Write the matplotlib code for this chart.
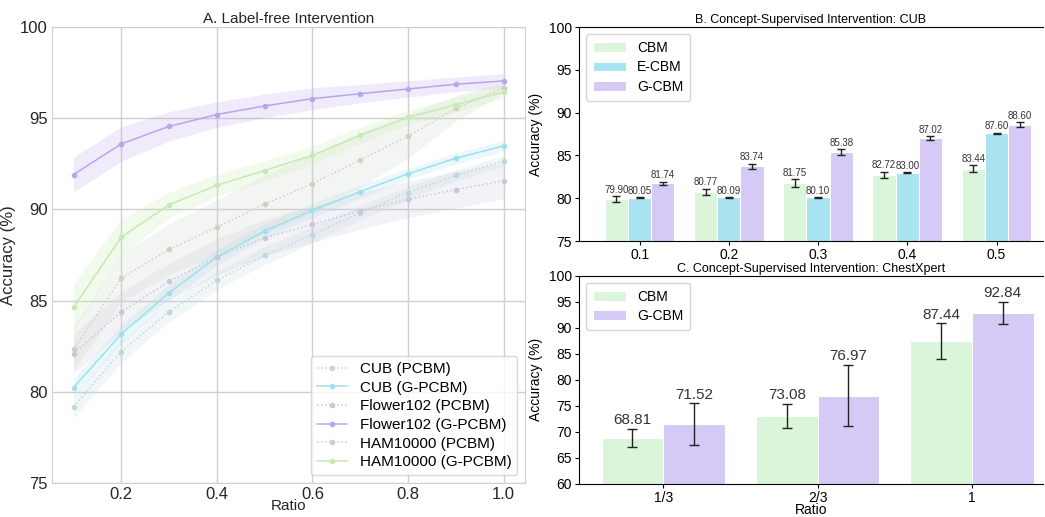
import matplotlib
matplotlib.use('Agg')
import matplotlib.pyplot as plt
import numpy as np

plt.rcParams['font.family'] = ['Liberation Sans', 'DejaVu Sans']

# ---- A. label-free intervention ----
ratios = [0.1, 0.2, 0.3, 0.4, 0.5, 0.6, 0.7, 0.8, 0.9, 1.0]
cub_pcbm = [79.17, 82.20, 84.39, 86.10, 87.47, 88.62, 89.80, 90.92, 91.86, 92.65]
cub_gpcbm = [80.23, 83.16, 85.43, 87.38, 88.81, 89.95, 90.97, 91.95, 92.80, 93.48]
flower_pcbm = [82.09, 84.39, 86.05, 87.38, 88.45, 89.17, 89.92, 90.54, 91.08, 91.57]
flower_gpcbm = [91.91, 93.59, 94.55, 95.20, 95.67, 96.07, 96.34, 96.60, 96.86, 97.04]
ham_pcbm = [82.33, 86.23, 87.80, 89.02, 90.29, 91.41, 92.71, 94.00, 95.54, 96.66]
ham_gpcbm = [84.62, 88.48, 90.25, 91.32, 92.13, 92.96, 94.06, 95.04, 95.74, 96.43]

cub_pcbm_sd = [0.6, 0.6, 0.55, 0.5, 0.5, 0.45, 0.4, 0.35, 0.3, 0.3]
cub_gpcbm_sd = [0.5, 0.5, 0.45, 0.45, 0.4, 0.4, 0.35, 0.3, 0.3, 0.3]
flower_pcbm_sd = [1.1, 1.1, 1.0, 1.0, 1.0, 1.0, 1.0, 1.0, 1.0, 1.0]
flower_gpcbm_sd = [0.95, 0.95, 0.8, 0.7, 0.65, 0.6, 0.5, 0.45, 0.4, 0.4]
ham_pcbm_sd = [1.2, 1.3, 1.4, 1.5, 1.6, 1.6, 1.5, 1.2, 0.7, 0.3]
ham_gpcbm_sd = [1.3, 1.0, 0.7, 0.6, 0.55, 0.5, 0.45, 0.4, 0.4, 0.35]

# ---- B. concept-supervised: CUB ----
cub_ratio_labels = ['0.1', '0.2', '0.3', '0.4', '0.5']
cub_cbm = [79.90, 80.77, 81.75, 82.72, 83.44]
cub_cbm_err = [0.35, 0.35, 0.45, 0.4, 0.4]
cub_ecbm = [80.05, 80.09, 80.10, 83.00, 87.60]
cub_ecbm_err = [0.05, 0.05, 0.05, 0.05, 0.05]
cub_gcbm = [81.74, 83.74, 85.38, 87.02, 88.60]
cub_gcbm_err = [0.2, 0.3, 0.35, 0.25, 0.25]

# ---- C. concept-supervised: ChestXpert ----
chest_ratio_labels = ['1/3', '2/3', '1']
chest_cbm = [68.81, 73.08, 87.44]
chest_cbm_err = [1.8, 2.3, 3.45]
chest_gcbm = [71.52, 76.97, 92.84]
chest_gcbm_err = [4.0, 5.9, 2.15]

c_cub = '#9fe0ec'
c_flower = '#b8a6ea'
c_ham = '#c6eab2'
c_cub_p = '#c0d8db'
c_flower_p = '#ccc6da'
c_ham_p = '#ccd3c6'
c_bar_cbm = '#daf5da'
c_bar_ecbm = '#a9e3ef'
c_bar_gcbm = '#d5c9f5'

fig = plt.figure(figsize=(10.45, 5.17), dpi=100)

axA = fig.add_axes([0.0498, 0.066, 0.4526, 0.8818])
series = [
    ('CUB (PCBM)', cub_pcbm, cub_pcbm_sd, c_cub_p, ':'),
    ('CUB (G-PCBM)', cub_gpcbm, cub_gpcbm_sd, c_cub, '-'),
    ('Flower102 (PCBM)', flower_pcbm, flower_pcbm_sd, c_flower_p, ':'),
    ('Flower102 (G-PCBM)', flower_gpcbm, flower_gpcbm_sd, c_flower, '-'),
    ('HAM10000 (PCBM)', ham_pcbm, ham_pcbm_sd, c_ham_p, ':'),
    ('HAM10000 (G-PCBM)', ham_gpcbm, ham_gpcbm_sd, c_ham, '-'),
]
x = np.array(ratios)
for name, vals, sd, col, ls in series:
    v = np.array(vals)
    s = np.array(sd)
    axA.fill_between(x, v - s, v + s, color=col, alpha=0.22, linewidth=0)
    axA.plot(x, v, ls, color=col, marker='o', markersize=3, linewidth=1.1, label=name)

axA.set_ylim(75, 100)
axA.set_yticks([75, 80, 85, 90, 95, 100])
axA.set_xticks([0.2, 0.4, 0.6, 0.8, 1.0])
axA.grid(True, color='#d0d0d0', linewidth=1)
axA.set_axisbelow(True)
for sp in axA.spines.values():
    sp.set_color('#d0d0d0')
axA.tick_params(length=0, labelsize=12, colors='#262626', pad=3)
axA.set_title('A. Label-free Intervention', fontsize=11, color='#262626', pad=3)
axA.set_xlabel('Ratio', fontsize=11, color='#262626', labelpad=-2)
axA.set_ylabel('Accuracy (%)', fontsize=12, color='#262626', labelpad=3)
axA.legend(loc='lower right', fontsize=11, frameon=True, facecolor='white',
           edgecolor='#d0d0d0', borderpad=0.4, labelspacing=0.3)

# panel B
axB = fig.add_axes([0.554, 0.5338, 0.444, 0.4139])
pos = np.arange(len(cub_ratio_labels))
w = 0.26
ekw = dict(ecolor='#222222', elinewidth=1, capsize=3, capthick=1)
for off, vals, err, col, name in [(-w, cub_cbm, cub_cbm_err, c_bar_cbm, 'CBM'),
                                   (0, cub_ecbm, cub_ecbm_err, c_bar_ecbm, 'E-CBM'),
                                   (w, cub_gcbm, cub_gcbm_err, c_bar_gcbm, 'G-CBM')]:
    axB.bar(pos + off, vals, w, yerr=err, color=col, edgecolor='white', linewidth=0.8,
            error_kw=ekw, label=name)
    for p, v, e in zip(pos + off, vals, err):
        axB.text(p, v + e + 0.15, '%.2f' % v, ha='center', va='bottom', fontsize=7, color='#333333')
axB.set_ylim(75, 100)
axB.set_yticks([75, 80, 85, 90, 95, 100])
axB.set_xticks(pos)
axB.set_xticklabels(cub_ratio_labels)
axB.set_xlim(-0.68, 4.52)
axB.spines['right'].set_visible(False)
axB.tick_params(labelsize=10, length=3, pad=2)
axB.set_title('B. Concept-Supervised Intervention: CUB', fontsize=9, pad=3)
axB.set_ylabel('Accuracy (%)', fontsize=10)
axB.legend(loc='upper left', fontsize=10, handlelength=2.4, borderpad=0.5, labelspacing=0.4)

# panel C
axC = fig.add_axes([0.554, 0.064, 0.444, 0.4027])
pos = np.arange(len(chest_ratio_labels))
w = 0.4
ekw = dict(ecolor='#222222', elinewidth=1, capsize=3.5, capthick=1)
for off, vals, err, col, name in [(-w / 2, chest_cbm, chest_cbm_err, c_bar_cbm, 'CBM'),
                                   (w / 2, chest_gcbm, chest_gcbm_err, c_bar_gcbm, 'G-CBM')]:
    axC.bar(pos + off, vals, w, yerr=err, color=col, edgecolor='white', linewidth=0.8,
            error_kw=ekw, label=name)
    for p, v, e in zip(pos + off, vals, err):
        axC.text(p, v + e + 0.3, '%.2f' % v, ha='center', va='bottom', fontsize=11, color='#333333')
axC.set_ylim(60, 100)
axC.set_yticks(np.arange(60, 101, 5))
axC.set_xticks(pos)
axC.set_xticklabels(chest_ratio_labels)
axC.set_xlim(-0.547, 2.46)
axC.spines['right'].set_visible(False)
axC.tick_params(labelsize=10, length=3, pad=2)
axC.set_title('C. Concept-Supervised Intervention: ChestXpert', fontsize=9, pad=3)
axC.set_ylabel('Accuracy (%)', fontsize=10)
axC.set_xlabel('Ratio', fontsize=10, labelpad=-1)
axC.legend(loc='upper left', fontsize=10, handlelength=2.4, borderpad=0.5, labelspacing=0.4)

fig.savefig('out.png', dpi=100)
